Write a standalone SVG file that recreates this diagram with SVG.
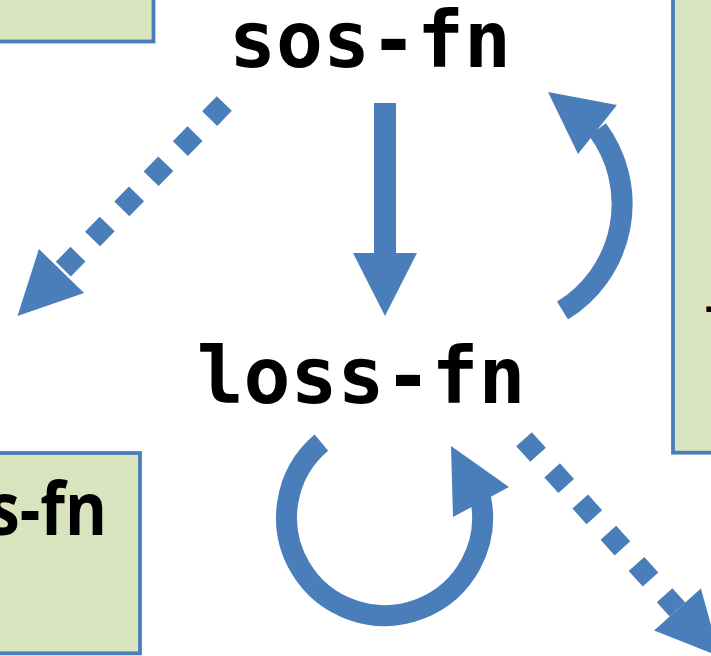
<svg xmlns="http://www.w3.org/2000/svg" width="711" height="656" viewBox="0 0 711 656">
  <style>
    .box { fill: #d7e4bd; stroke: #4a7ebb; stroke-width: 3.8; }
    .code { font-family: "DejaVu Sans Mono", "Liberation Mono", monospace; font-weight: bold; font-size: 78px; fill: #000; }
    .label { font-family: "Open Sans", "Noto Sans", sans-serif; font-weight: bold; fill: #000; }
    .shaft { fill: none; stroke: #4a7ebb; stroke-width: 21; stroke-linecap: butt; }
    .dotted { stroke-dasharray: 21 21; }
    .head { fill: #4a7ebb; }
  </style>
  <rect width="711" height="656" fill="#ffffff"/>

  <!-- neighbouring boxes, partly outside the frame -->
  <g id="box-top-left">
    <rect class="box" x="-10" y="-10" width="163.5" height="51.5"/>
  </g>
  <g id="box-right">
    <rect class="box" x="673" y="-10" width="60" height="462.7"/>
    <text class="label" x="705" y="321" font-size="44">-</text>
  </g>
  <g id="box-bottom-left">
    <rect class="box" x="-10" y="453" width="150" height="200.3"/>
    <text class="label" x="-12" y="535" font-size="74" textLength="119" lengthAdjust="spacingAndGlyphs">s-fn</text>
  </g>

  <!-- function nodes -->
  <g id="sos-fn">
    <text class="code" x="370" y="67" text-anchor="middle">sos-fn</text>
  </g>
  <g id="loss-fn">
    <text class="code" x="361" y="403" text-anchor="middle">loss-fn</text>
  </g>

  <g id="connectors">
    <!-- sos-fn to loss-fn -->
    <polygon class="head" points="374,103 396,103 396,253 417,253 385,316 353,253 374,253"/>

    <!-- sos-fn out to the lower left, dotted -->
    <line class="shaft dotted" x1="224.3" y1="103.5" x2="61.5" y2="271"/>
    <polygon class="head" points="17.5,316.1 38.9,249 84.1,293"/>

    <!-- loss-fn out to the lower right, dotted -->
    <line class="shaft dotted" x1="524" y1="439.2" x2="677.5" y2="609.5"/>
    <polygon class="head" points="719.6,656.3 700.9,588.4 654.1,630.6"/>

    <!-- loss-fn back up to sos-fn -->
    <path class="shaft" d="M562.5,310.5 A125,125 0 0 0 597.5,129.5"/>
    <polygon class="head" points="548,92 617,105 578,154"/>

    <!-- loss-fn self loop -->
    <path class="shaft" d="M321.4,442.6 A98,98 0 1 0 480.4,497.1"/>
    <polygon class="head" points="451,446 509,487 453,517"/>
  </g>
</svg>
